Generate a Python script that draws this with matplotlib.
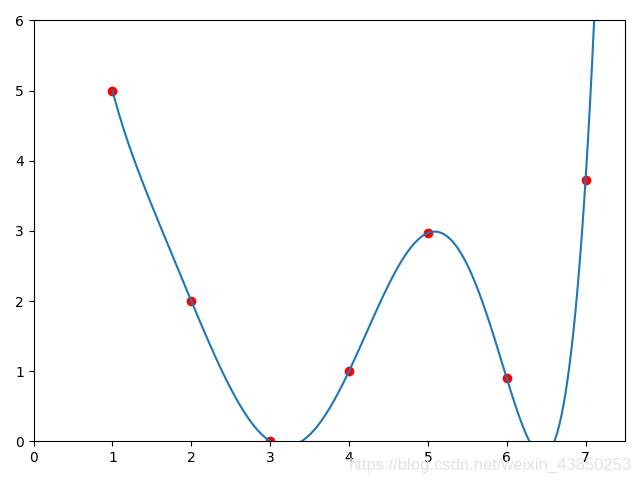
import numpy as np
import matplotlib
matplotlib.use('Agg')
import matplotlib.pyplot as plt

# Data points
x_pts = [1, 2, 3, 4, 5, 6, 7]
y_pts = [5.0, 2.0, 0.0, 1.0, 2.97, 0.9, 3.73]

# Polynomial interpolation through the points
coef = np.polyfit(x_pts, y_pts, len(x_pts) - 1)
x_curve = np.linspace(1, 7.5, 500)
y_curve = np.polyval(coef, x_curve)

fig, ax = plt.subplots(figsize=(6.4, 4.8), dpi=100)
ax.plot(x_curve, y_curve)
ax.scatter(x_pts, y_pts, color='red')

ax.set_xlim(0, 7.5)
ax.set_ylim(0, 6)

fig.tight_layout()
# watermark from the source image
fig.text(0.988, 0.015, 'https://blog.csdn.net/weixin_43850253', ha='right', va='bottom',
         fontsize=12, color='#e2e2e2', family='Liberation Sans')
plt.savefig('out.png', dpi=100)
